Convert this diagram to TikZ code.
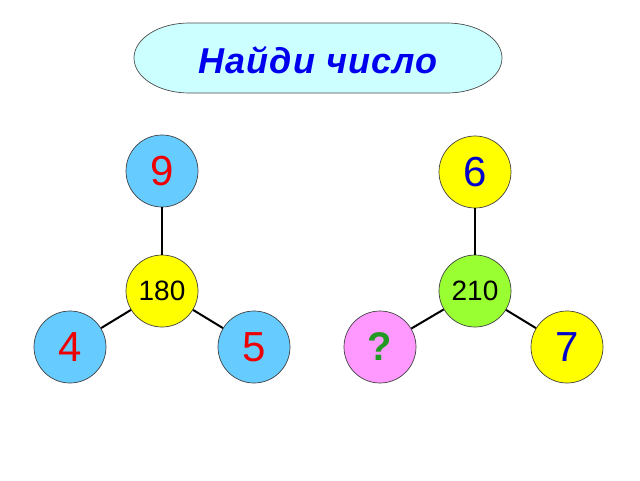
\documentclass[tikz,border=0pt]{standalone}
\usepackage{fontspec}
\setmainfont{Liberation Sans}
\definecolor{titlefill}{HTML}{CCFFFF}
\definecolor{titleblue}{HTML}{0000EE}
\definecolor{ballblue}{HTML}{66CCFF}
\definecolor{ballyellow}{HTML}{FFFF00}
\definecolor{ballgreen}{HTML}{99FF33}
\definecolor{ballpink}{HTML}{FF99FF}
\definecolor{digred}{HTML}{EE0000}
\definecolor{digblue}{HTML}{0000CC}
\definecolor{qgreen}{HTML}{229922}
\tikzset{
  ball/.style={circle, draw=black!75, line width=0.7pt, minimum size=72pt, inner sep=0pt},
  bignum/.style={font=\fontsize{42}{42}\selectfont},
  midnum/.style={font=\fontsize{28}{28}\selectfont},
  link/.style={line width=2pt, black}
}
\begin{document}
\begin{tikzpicture}[x=1pt,y=-1pt]
\useasboundingbox (0,0) rectangle (640,480);
\draw[draw=black!70, line width=0.7pt, fill=titlefill]
  (189,23) -- (447,23) arc[start angle=-90, end angle=90, x radius=55, y radius=35]
  -- (189,93) arc[start angle=90, end angle=270, x radius=55, y radius=35] -- cycle;
\node[text=titleblue, font=\fontsize{36}{36}\selectfont\bfseries\itshape\addfontfeature{LetterSpace=3}] (title) at (318,60) {Найди число};
% left tree
\node[ball, fill=ballblue, bignum, text=digred] (a9) at (162,171) {9};
\node[ball, fill=ballyellow, midnum] (a180) at (162,291) {180};
\node[ball, fill=ballblue, bignum, text=digred] (a4) at (70,347) {4};
\node[ball, fill=ballblue, bignum, text=digred] (a5) at (254,347) {5};
\draw[link] (a9) -- (a180);
\draw[link] (a180) -- (a4);
\draw[link] (a180) -- (a5);
% right tree
\node[ball, fill=ballyellow, bignum, text=digblue] (b6) at (475,172) {6};
\node[ball, fill=ballgreen, midnum] (b210) at (475,291) {210};
\node[ball, fill=ballpink, font=\fontsize{40}{40}\selectfont\bfseries, text=qgreen] (bq) at (380,347) {?};
\node[ball, fill=ballyellow, bignum, text=digblue] (b7) at (567,347) {7};
\draw[link] (b6) -- (b210);
\draw[link] (b210) -- (bq);
\draw[link] (b210) -- (b7);
\end{tikzpicture}
\end{document}
